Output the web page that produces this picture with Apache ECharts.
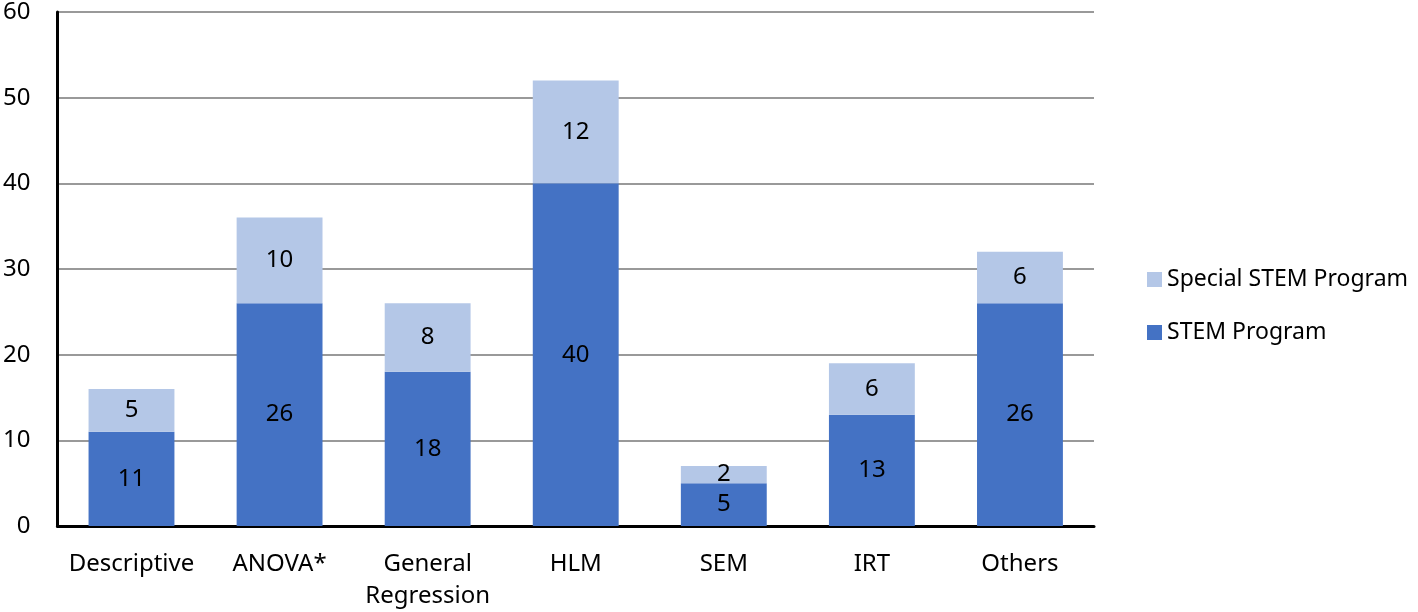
<!DOCTYPE html>
<html>
<head>
<meta charset="utf-8">
<script src="https://cdn.jsdelivr.net/npm/echarts@6/dist/echarts.min.js"></script>
<style>
  html, body { margin: 0; padding: 0; background: #fff; }
  #chart { width: 1418px; height: 612px; }
</style>
</head>
<body>
<div id="chart"></div>
<script>
const categories = ["Descriptive", "ANOVA*", "General\nRegression", "HLM", "SEM", "IRT", "Others"];
const stemProgram = [11, 26, 18, 40, 5, 13, 26];
const specialStem = [5, 10, 8, 12, 2, 6, 6];

const chart = echarts.init(document.getElementById("chart"));
const font = "Noto Sans";

chart.setOption({
  animation: false,
  textStyle: { fontFamily: font },
  grid: { left: 53, right: 324, top: 10, bottom: 84 },
  legend: {
    orient: "vertical",
    left: 1142,
    top: 263,
    itemWidth: 15,
    itemHeight: 15,
    itemGap: 30,
    icon: "rect",
    textStyle: { fontSize: 23, color: "#000", fontFamily: font },
    data: ["Special STEM Program", "STEM Program"]
  },
  xAxis: {
    type: "category",
    data: categories,
    axisTick: { show: false },
    axisLine: { lineStyle: { color: "#000", width: 3 } },
    axisLabel: {
      color: "#000",
      fontSize: 24,
      margin: 22,
      lineHeight: 32,
      interval: 0
    }
  },
  yAxis: {
    type: "value",
    min: 0,
    max: 60,
    interval: 10,
    axisLine: { show: true, lineStyle: { color: "#000", width: 3 } },
    axisTick: { show: false },
    splitLine: { lineStyle: { color: "#999", width: 2 } },
    axisLabel: { color: "#000", fontSize: 24, margin: 27 }
  },
  series: [
    {
      name: "STEM Program",
      type: "bar",
      stack: "total",
      data: stemProgram,
      barCategoryGap: "42%",
      itemStyle: { color: "#4472C4" },
      label: { show: true, position: "inside", color: "#000", fontSize: 24 }
    },
    {
      name: "Special STEM Program",
      type: "bar",
      stack: "total",
      data: specialStem,
      itemStyle: { color: "#B4C7E7" },
      label: { show: true, position: "inside", color: "#000", fontSize: 24 }
    }
  ]
});
</script>
</body>
</html>
